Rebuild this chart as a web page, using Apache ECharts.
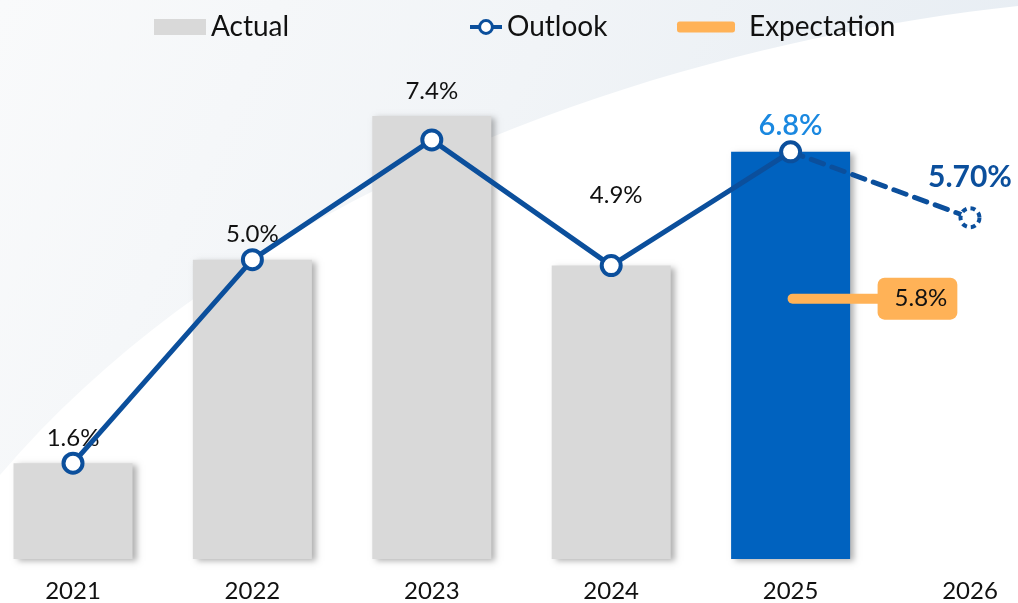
<!DOCTYPE html>
<html>
<head>
<meta charset="utf-8">
<script src="https://cdn.jsdelivr.net/npm/echarts@6/dist/echarts.min.js"></script>
<style>
  html, body { margin: 0; padding: 0; background: #fff; }
  #chart { width: 1018px; height: 603px; }
</style>
</head>
<body>
<div id="chart"></div>
<script>
// data
const years = ['2021', '2022', '2023', '2024', '2025', '2026'];
const actualValues = [1.6, 5.0, 7.4, 4.9, 6.8, null];
const outlookValues = [1.6, 5.0, 7.0, 4.9, 6.8, null];
const forecastValues = [null, null, null, null, 6.8, 5.7];
const forecastLabels = ['', '', '', '', '', '5.70%'];
const expectationValues = [null, null, null, null, 5.8, null];

const FONT = 'Lato, "Noto Sans", sans-serif';
const grey = '#d9d9d9';
const blue = '#0062bf';
const navy = '#0b4f9c';
const sky = '#1a88e0';
const orange = '#ffb257';

const chart = echarts.init(document.getElementById('chart'));

// background swoosh (decoration only): cubic curve sampled into a polygon
function swoosh() {
  const p0 = [1018, 6], c1 = [700, 40], c2 = [260, 170], p3 = [0, 475];
  const pts = [[0, 0], [1018, 0]];
  for (let i = 0; i <= 40; i++) {
    const t = i / 40, u = 1 - t;
    pts.push([
      u * u * u * p0[0] + 3 * u * u * t * c1[0] + 3 * u * t * t * c2[0] + t * t * t * p3[0],
      u * u * u * p0[1] + 3 * u * u * t * c1[1] + 3 * u * t * t * c2[1] + t * t * t * p3[1]
    ]);
  }
  return pts;
}

// bar items: 2025 highlighted, 2024 label lifted
const barData = actualValues.map((v, i) => {
  if (v === null) return null;
  const item = { value: v };
  if (years[i] === '2025') {
    item.itemStyle = { color: blue };
    item.label = { color: sky, fontWeight: 600, fontSize: 29, distance: 12 };
  }
  if (years[i] === '2024') {
    item.label = { offset: [5, -45] };
  }
  return item;
});

const forecastData = forecastValues.map((v, i) => {
  if (v === null) return null;
  if (forecastLabels[i]) {
    return {
      value: v,
      itemStyle: { borderType: [5, 4] },
      label: {
        show: true, position: 'top', distance: 14,
        formatter: forecastLabels[i],
        fontSize: 30, fontWeight: 'bold', color: navy, fontFamily: FONT
      }
    };
  }
  return { value: v, symbolSize: 0 };
});

const capsule = 'path://M5,0 H91 A5,5 0 0 1 91,10 H5 A5,5 0 0 1 5,0 Z';

const option = {
  backgroundColor: '#fff',
  animation: false,
  graphic: [
    {
      type: 'polygon',
      silent: true,
      z: -10,
      shape: { points: swoosh() },
      style: {
        fill: {
          type: 'linear', x: 0, y: 0, x2: 1, y2: 1,
          colorStops: [
            { offset: 0, color: '#f9fafb' },
            { offset: 0.45, color: '#f1f4f7' },
            { offset: 1, color: '#e4ebf2' }
          ]
        }
      }
    }
  ],
  legend: [
    {
      data: ['Actual'], left: 149, top: 8,
      icon: 'rect', itemWidth: 52, itemHeight: 16,
      textStyle: { fontSize: 28, color: '#111', fontFamily: FONT }
    },
    {
      data: [{
        name: 'Outlook',
        lineStyle: { type: 'solid', width: 4, color: navy },
        itemStyle: { borderType: 'solid', borderWidth: 3, borderColor: navy, color: '#fff' }
      }],
      left: 463, top: 8,
      itemWidth: 32, itemHeight: 16,
      textStyle: { fontSize: 28, color: '#111', fontFamily: FONT }
    },
    {
      data: ['Expectation'], left: 672, top: 8,
      icon: 'roundRect', itemWidth: 58, itemHeight: 11,
      textStyle: { fontSize: 28, color: '#111', fontFamily: FONT, padding: [0, 0, 0, 9] }
    }
  ],
  grid: { left: 73, right: 48, top: 80, bottom: 43 },
  xAxis: {
    type: 'category',
    boundaryGap: false,
    data: years,
    axisLine: { show: false },
    axisTick: { show: false },
    splitLine: { show: false },
    axisLabel: { fontSize: 24, color: '#111', margin: 20, fontFamily: FONT }
  },
  yAxis: [
    { type: 'value', min: 0, max: 8, show: false },
    { type: 'value', min: 0, max: 10.67, show: false }
  ],
  series: [
    {
      name: 'Actual',
      type: 'bar',
      data: barData,
      barWidth: 119,
      clip: false,
      itemStyle: {
        color: grey,
        shadowColor: 'rgba(0,0,0,0.3)',
        shadowBlur: 6,
        shadowOffsetX: 4,
        shadowOffsetY: 2
      },
      label: {
        show: true, position: 'top', distance: 13,
        fontSize: 24, color: '#111', fontFamily: FONT,
        formatter: p => p.value.toFixed(1) + '%'
      }
    },
    {
      name: 'Outlook',
      type: 'line',
      data: outlookValues,
      clip: false,
      symbol: 'circle',
      symbolSize: 19,
      lineStyle: { color: navy, width: 5 },
      itemStyle: { color: '#fff', borderColor: navy, borderWidth: 4 },
      z: 4
    },
    {
      name: 'Outlook',
      type: 'line',
      data: forecastData,
      clip: false,
      symbol: 'circle',
      symbolSize: 19,
      lineStyle: { color: navy, width: 5, type: [13, 9], cap: 'round' },
      itemStyle: { color: '#fff', borderColor: navy, borderWidth: 4 },
      z: 3
    },
    {
      name: 'Expectation',
      type: 'scatter',
      yAxisIndex: 1,
      data: expectationValues,
      clip: false,
      symbol: capsule,
      symbolKeepAspect: false,
      symbolSize: [96, 10],
      symbolOffset: [45, 0],
      itemStyle: { color: orange, opacity: 1 },
      label: {
        show: true,
        position: 'right',
        distance: -6,
        formatter: p => p.value.toFixed(1) + '%',
        backgroundColor: orange,
        borderRadius: 7,
        padding: [10, 10, 8, 17],
        fontSize: 24,
        color: '#111',
        fontFamily: FONT
      },
      z: 5
    }
  ]
};

chart.setOption(option);
</script>
</body>
</html>
